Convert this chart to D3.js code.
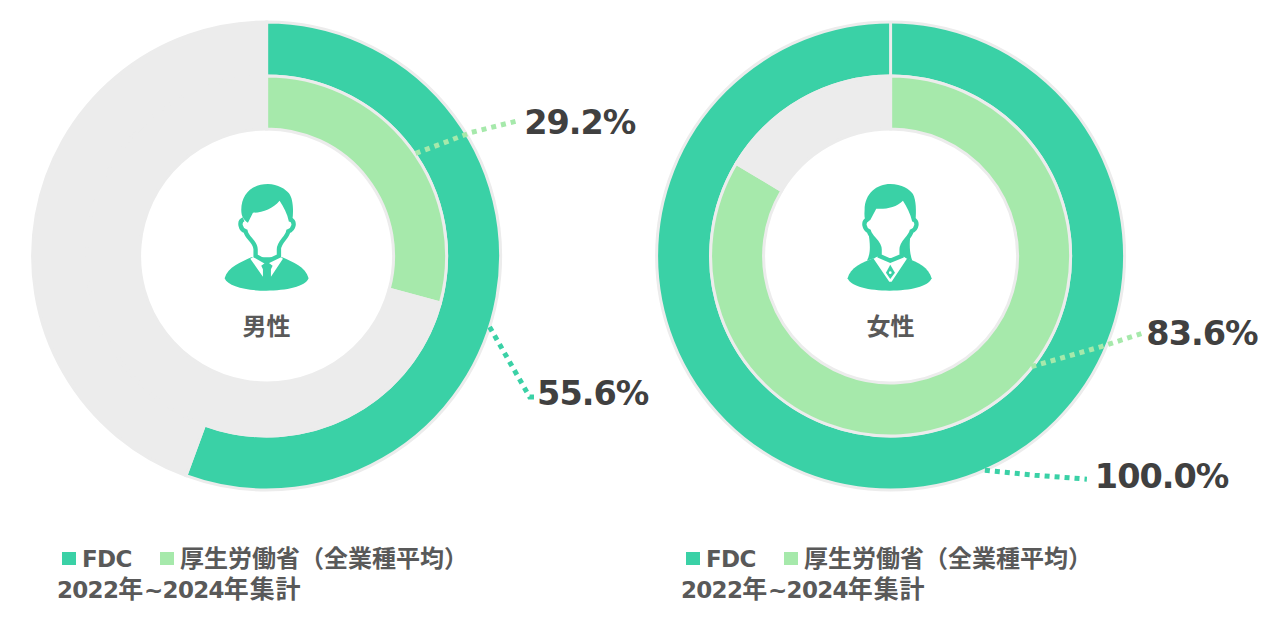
<!DOCTYPE html>
<html><head><meta charset="utf-8">
<script src="https://cdn.jsdelivr.net/npm/d3@7"></script>
<style>html,body{margin:0;background:#fff}svg{display:block}text{font-family:"DejaVu Sans","Noto Sans CJK JP",sans-serif;font-weight:700}</style>
</head><body><div id="chart"></div>
<script>
const chartNames = ["男性", "女性"];
const seriesNames = ["FDC", "厚生労働省（全業種平均）"];
const fdcValues = [55.6, 100.0];
const mhlwValues = [29.2, 83.6];
const noteText = "2022年~2024年集計";
const colors = {fdc:"#3AD1A6", mhlw:"#A6E9AB", rest:"#ECECEC", label:"#404040", legend:"#595959"};

const W=1280,H=618;
const svg=d3.select("#chart").append("svg").attr("width",W).attr("height",H);
const panelX=d3.scalePoint().domain(chartNames).range([266.6,890.6]);
const radius={outerO:234,outerI:180,innerO:180,innerI:127};
const pie=d3.pie().sort(null).value(d=>d);
// leader layout per panel: anchor share (% clockwise from top) & radius, then offsets to the label
const leaders={
 "男性":[{ser:"fdc",at:29.9,r:234,bend:[40,70],end:[47,70],tx:47.5,ty:78},
         {ser:"mhlw",at:15.4,r:181,bend:[56,-21],end:[104,-33],tx:108.5,ty:-19}],
 "女性":[{ser:"fdc",at:43.4,r:234,bend:[50,5],end:[102,9],tx:110,ty:18},
         {ser:"mhlw",at:35.6,r:179,bend:[70,-20],end:[110,-33],tx:115,ty:-22}]
};
const maleBody="M75 325C85 290 125 277 155 262L248 262C280 277 318 290 327 325C318 350 260 362 200 362C140 362 85 350 75 325Z";
const maleCollar="M152 266L168 257L200 273L238 257L250 266L214 320L214 298L219 287L208 279L196 279L185 287L190 298L190 320Z";
const femaleBody="M72 325C80 292 115 278 152 264L248 264C285 278 315 292 324 325C315 350 260 362 198 362C136 362 82 350 72 325Z";
const femaleCollar="M150 266L170 255L200 270L232 255L250 266L204 335L197 335Z";
const femaleTie="M200 284L214 308L200 327L187 308Z";
const maleHair="M125 120C125 70 160 42 205 42C235 42 258 58 268 70C280 85 283 120 278 152L268 155C263 130 252 110 240 92C220 115 190 128 160 128L145 158C133 150 125 140 125 120Z";
const femaleHair="M123 120C123 70 160 42 200 42C235 42 258 58 268 72C278 90 278 125 276 150L266 155C260 130 250 110 238 92C218 112 188 118 158 116L140 150L128 158C122 145 122 135 123 120Z";
const femaleLocks="M134 185C145 205 165 215 168 240L165 260L130 272C142 250 140 220 134 185ZM262 185C255 205 235 215 232 240L235 260L266 272C258 250 256 220 262 185Z";
const maleFace="M132 148C116 155 122 178 138 184C142 205 168 215 168 238L168 258L200 276L238 258L238 238C238 215 262 205 266 184C284 178 288 155 272 148";
const femaleFace="M132 148C116 155 122 178 136 184C142 205 168 215 168 238L168 258L200 272L234 258L234 238C234 215 258 205 264 184C280 178 284 155 270 148";

function addRuns(sel,str,cjk,cjkSpacing){
  (str.match(/[\x00-\x7f]+|[^\x00-\x7f]+/g)||[]).forEach(r=>{
    const latin=/^[\x00-\x7f]/.test(r);
    sel.append("tspan").attr("font-size",latin?23:cjk).attr("letter-spacing",latin?-0.7:cjkSpacing).text(r);
  });
}

chartNames.forEach((name,i)=>{
  const cx=panelX(name),cy=256;
  const g=svg.append("g").attr("transform",`translate(${cx},${cy})`);
  const rings=[
    {v:fdcValues[i],c:colors.fdc,a:d3.arc().innerRadius(radius.outerI).outerRadius(radius.outerO)},
    {v:mhlwValues[i],c:colors.mhlw,a:d3.arc().innerRadius(radius.innerI).outerRadius(radius.innerO)}
  ];
  rings.forEach(r=>{
    g.selectAll(null).data(pie([r.v,100-r.v])).join("path")
     .attr("d",r.a).attr("fill",(d,j)=>j==0?r.c:colors.rest)
     .attr("stroke",colors.rest).attr("stroke-width",3);
  });
  const share=d3.scaleLinear().domain([0,100]).range([0,2*Math.PI]);
  leaders[name].forEach(l=>{
    const a=share(l.at),x=l.r*Math.sin(a),y=-l.r*Math.cos(a);
    const col=l.ser=="fdc"?colors.fdc:colors.mhlw;
    g.append("path").attr("d",d3.line()([[x,y],[x+l.bend[0],y+l.bend[1]],[x+l.end[0],y+l.end[1]]]))
     .attr("fill","none").attr("stroke",col).attr("stroke-width",5).attr("stroke-dasharray","5 5");
    const val=l.ser=="fdc"?fdcValues[i]:mhlwValues[i];
    g.append("text").attr("x",x+l.tx).attr("y",y+l.ty).attr("font-size",33.5).attr("letter-spacing",-1).attr("fill",colors.label).text(val.toFixed(1)+"%");
  });
  const ic=svg.append("g").attr("transform",`translate(${cx-67},170) scale(${1/3})`);
  ic.append("path").attr("d",i?femaleBody:maleBody).attr("fill",colors.fdc);
  if(i) ic.append("path").attr("d",femaleLocks).attr("fill",colors.fdc);
  ic.append("path").attr("d",i?femaleCollar:maleCollar).attr("fill","#fff");
  if(i){ ic.append("path").attr("d",femaleTie).attr("fill",colors.fdc);
         ic.append("circle").attr("cx",200).attr("cy",308).attr("r",4).attr("fill","#fff"); }
  ic.append("path").attr("d",i?femaleFace:maleFace).attr("fill","none").attr("stroke",colors.fdc).attr("stroke-width",13);
  ic.append("path").attr("d",i?femaleHair:maleHair).attr("fill",colors.fdc);
  svg.append("text").attr("x",cx).attr("y",335).attr("text-anchor","middle").attr("font-size",24).attr("fill",colors.legend).text(name);

  const lg=svg.append("g").attr("transform",`translate(${cx-266.6},0)`);
  const lx=[62,160];
  seriesNames.forEach((s,j)=>{
    lg.append("rect").attr("x",lx[j]).attr("y",552).attr("width",14).attr("height",13).attr("fill",j?colors.mhlw:colors.fdc);
    addRuns(lg.append("text").attr("x",lx[j]+20).attr("y",567).attr("fill",colors.legend),s,24,0);
  });
  addRuns(lg.append("text").attr("x",57).attr("y",598).attr("fill",colors.legend),noteText,25,0.8);
});
</script></body></html>
